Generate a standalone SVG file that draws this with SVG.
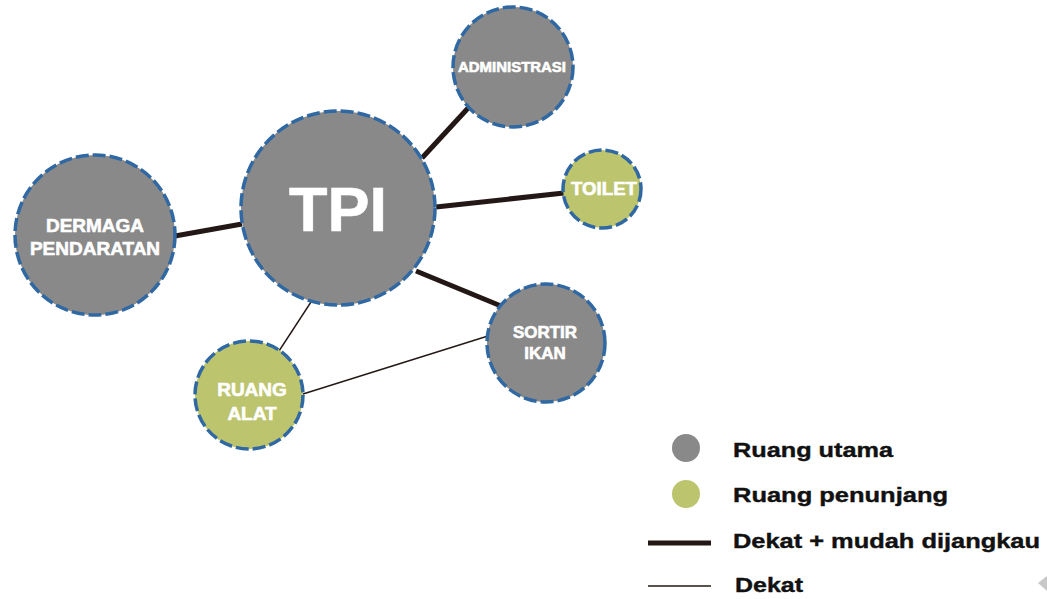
<svg xmlns="http://www.w3.org/2000/svg" width="1047" height="599" viewBox="0 0 1047 599">
<style>
.n{stroke:#2f68a3;stroke-width:3.5;stroke-dasharray:13 4}
.g{fill:#898989}
.v{fill:#bcc46e}
.t{fill:#fff;stroke:#fff;stroke-width:0.6;font-family:"Liberation Sans",Arial,sans-serif;font-weight:bold;text-anchor:middle}
.thick{stroke:#231815;stroke-width:5;fill:none}
.thin{stroke:#231815;stroke-width:1.4;fill:none}
.lg{fill:#111;stroke:#111;stroke-width:0.4;font-family:"Liberation Sans",Arial,sans-serif;font-weight:bold;font-size:21px}
</style>
<rect width="1047" height="599" fill="#fff"/>
<g id="connectors">
<line class="thick" x1="422" y1="158" x2="470" y2="106"/>
<line class="thick" x1="436" y1="207" x2="564" y2="193"/>
<line class="thick" x1="175" y1="236" x2="242" y2="224"/>
<line class="thick" x1="416" y1="271" x2="501" y2="306"/>
<line class="thin" x1="311" y1="302" x2="279" y2="351"/>
<line class="thin" x1="303" y1="394" x2="488" y2="336"/>
</g>
<g id="tpi"><circle class="n g" cx="338" cy="208" r="97"/><text class="t" x="338" y="231" font-size="63" stroke-width="1">TPI</text></g>
<g id="administrasi"><circle class="n g" cx="513" cy="67" r="60"/><text class="t" x="512" y="72" font-size="14.5" textLength="108" lengthAdjust="spacingAndGlyphs">ADMINISTRASI</text></g>
<g id="toilet"><circle class="n v" cx="602" cy="189" r="39"/><text class="t" x="604" y="195" font-size="18" textLength="66" lengthAdjust="spacingAndGlyphs">TOILET</text></g>
<g id="dermaga"><circle class="n g" cx="95" cy="235" r="80"/><text class="t" x="95" y="232" font-size="19">DERMAGA</text><text class="t" x="95" y="255" font-size="19">PENDARATAN</text></g>
<g id="sortir"><circle class="n g" cx="546" cy="343" r="59"/><text class="t" x="545" y="338" font-size="17">SORTIR</text><text class="t" x="545" y="359" font-size="17">IKAN</text></g>
<g id="ruangalat"><circle class="n v" cx="249" cy="395" r="54"/><text class="t" x="252" y="396" font-size="19">RUANG</text><text class="t" x="252" y="420" font-size="19">ALAT</text></g>
<g id="legend">
<circle cx="686" cy="448" r="14" fill="#898989"/>
<circle cx="686" cy="494" r="14" fill="#bcc46e"/>
<line x1="648" y1="543" x2="711" y2="543" stroke="#231815" stroke-width="5"/>
<line x1="648" y1="586" x2="711" y2="586" stroke="#231815" stroke-width="1.3"/>
<text class="lg" x="733" y="457" textLength="160" lengthAdjust="spacingAndGlyphs">Ruang utama</text>
<text class="lg" x="733" y="502" textLength="215" lengthAdjust="spacingAndGlyphs">Ruang penunjang</text>
<text class="lg" x="733" y="548" textLength="307" lengthAdjust="spacingAndGlyphs">Dekat + mudah dijangkau</text>
<text class="lg" x="735" y="592" textLength="68" lengthAdjust="spacingAndGlyphs">Dekat</text>
</g>
<polygon points="1038,583 1047,576 1047,591" fill="#c8c8c8"/>
</svg>
